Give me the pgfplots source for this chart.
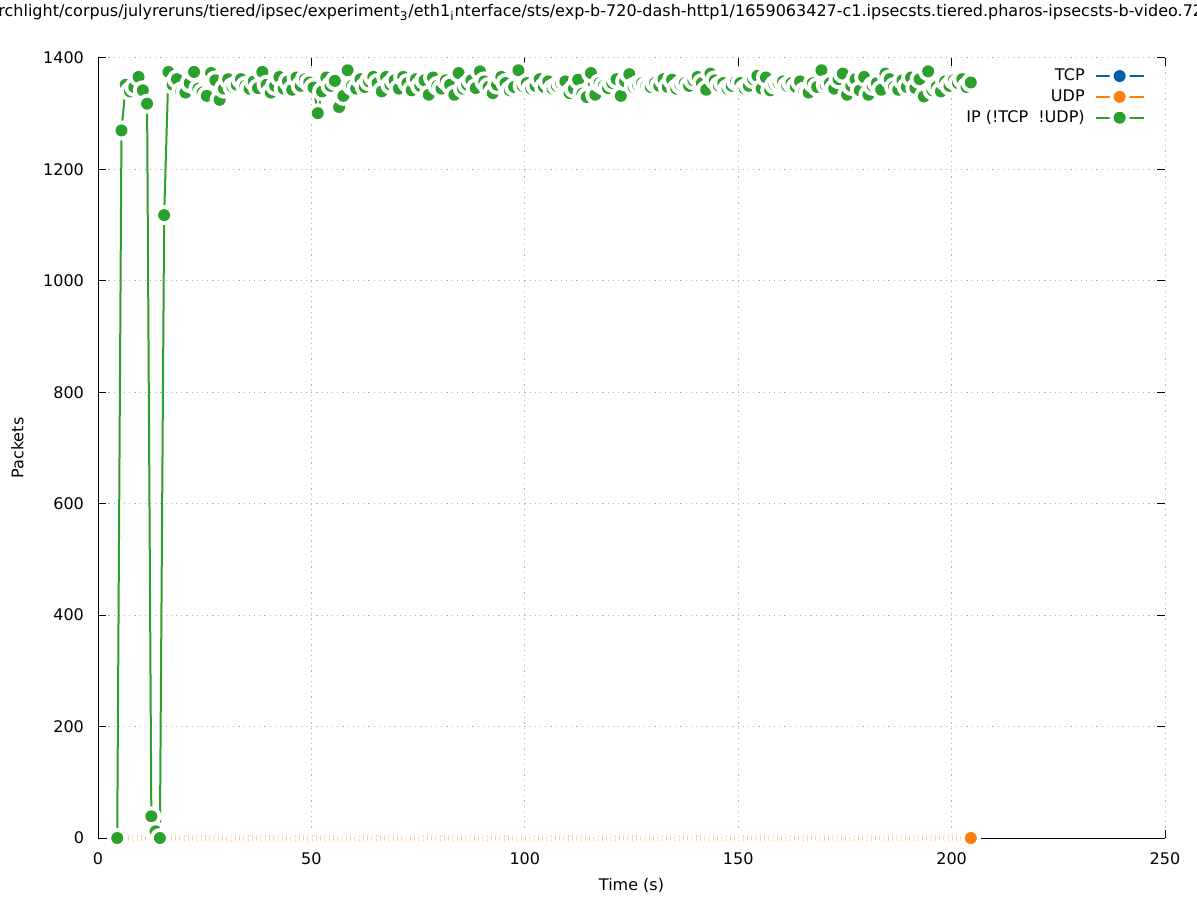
\documentclass[border=0pt]{standalone}
\usepackage{fontspec}
\setmainfont{DejaVu Sans}
\usepackage{pgfplots}
\pgfplotsset{compat=1.18}
\definecolor{tcpblue}{HTML}{0060AD}
\definecolor{udporange}{HTML}{FF7F0E}
\definecolor{ipgreen}{HTML}{2CA02C}
\pgfdeclareplotmark{gp}{%
  \begin{pgfscope}\pgfsetfillcolor{white}%
  \pgfpathcircle{\pgfpointorigin}{5pt}\pgfusepathqfill\end{pgfscope}%
  \pgfpathcircle{\pgfpointorigin}{3pt}\pgfusepathqfill}
\begin{document}
\begin{tikzpicture}
\useasboundingbox (0pt,0pt) rectangle (598.5pt,450pt);
\begin{scope}
\clip (0pt,0pt) rectangle (598.5pt,450pt);
\node[anchor=base west, inner sep=0pt, font=\fontsize{8}{9.6}\selectfont] at (-1pt,441.5pt)
 {rchlight/corpus/julyreruns/tiered/ipsec/experiment\textsubscript{3}/eth1\textsubscript{i}nterface/sts/exp-b-720-dash-http1/1659063427-c1.ipsecsts.tiered.pharos-ipsecsts-b-video.720p};
\end{scope}
\begin{axis}[
  at={(49pt,31pt)}, anchor=south west, scale only axis,
  width=533.5pt, height=390pt,
  xmin=0, xmax=250, ymin=0, ymax=1400,
  xtick={0,50,...,250}, ytick={0,200,...,1400},
  tick align=inside, major tick length=4pt, minor tick num=0,
  axis line style={draw=none},
  tick style={black, line width=0.5pt},
  grid=major,
  major grid style={color=black!30, line width=0.5pt, dash pattern=on 0.6pt off 2pt},
  clip=false,
  ticklabel style={font=\fontsize{8}{9.6}\selectfont},
  xticklabel style={yshift=-4pt},
  yticklabel style={xshift=-3.5pt},
  /pgf/number format/assume math mode=true,
  scaled ticks=false, /pgf/number format/1000 sep={},
  xlabel={Time (s)}, ylabel={Packets},
  label style={font=\fontsize{8}{9.6}\selectfont},
  xlabel style={at={(axis description cs:0.5,-0.0615)}, anchor=center},
  ylabel style={at={(axis description cs:-0.0756,0.5)}, anchor=center},
  legend plot pos=right, legend cell align=right,
  legend style={draw=none, fill=none, at={(rel axis cs:0.9813,0.992)}, anchor=north east,
    font=\fontsize{8}{9.6}\selectfont, row sep=-1pt, column sep=3pt, inner sep=0pt},
  legend image code/.code={\draw[mark repeat=2, mark phase=2, #1] plot coordinates {(0pt,0pt) (12pt,0pt) (24pt,0pt)};},
]
\addlegendimage{color=tcpblue, line width=1pt, mark=gp}
\addlegendentry{TCP}
\addplot[color=udporange, line width=1pt, mark=gp] coordinates {
(4.5,0) (5.5,0) (6.5,0) (7.5,0) (8.5,0) (9.5,0) (10.5,0) (11.5,0) (12.5,0) (13.5,0)
(14.5,0) (15.5,0) (16.5,0) (17.5,0) (18.5,0) (19.5,0) (20.5,0) (21.5,0) (22.5,0) (23.5,0)
(24.5,0) (25.5,0) (26.5,0) (27.5,0) (28.5,0) (29.5,0) (30.5,0) (31.5,0) (32.5,0) (33.5,0)
(34.5,0) (35.5,0) (36.5,0) (37.5,0) (38.5,0) (39.5,0) (40.5,0) (41.5,0) (42.5,0) (43.5,0)
(44.5,0) (45.5,0) (46.5,0) (47.5,0) (48.5,0) (49.5,0) (50.5,0) (51.5,0) (52.5,0) (53.5,0)
(54.5,0) (55.5,0) (56.5,0) (57.5,0) (58.5,0) (59.5,0) (60.5,0) (61.5,0) (62.5,0) (63.5,0)
(64.5,0) (65.5,0) (66.5,0) (67.5,0) (68.5,0) (69.5,0) (70.5,0) (71.5,0) (72.5,0) (73.5,0)
(74.5,0) (75.5,0) (76.5,0) (77.5,0) (78.5,0) (79.5,0) (80.5,0) (81.5,0) (82.5,0) (83.5,0)
(84.5,0) (85.5,0) (86.5,0) (87.5,0) (88.5,0) (89.5,0) (90.5,0) (91.5,0) (92.5,0) (93.5,0)
(94.5,0) (95.5,0) (96.5,0) (97.5,0) (98.5,0) (99.5,0) (100.5,0) (101.5,0) (102.5,0) (103.5,0)
(104.5,0) (105.5,0) (106.5,0) (107.5,0) (108.5,0) (109.5,0) (110.5,0) (111.5,0) (112.5,0) (113.5,0)
(114.5,0) (115.5,0) (116.5,0) (117.5,0) (118.5,0) (119.5,0) (120.5,0) (121.5,0) (122.5,0) (123.5,0)
(124.5,0) (125.5,0) (126.5,0) (127.5,0) (128.5,0) (129.5,0) (130.5,0) (131.5,0) (132.5,0) (133.5,0)
(134.5,0) (135.5,0) (136.5,0) (137.5,0) (138.5,0) (139.5,0) (140.5,0) (141.5,0) (142.5,0) (143.5,0)
(144.5,0) (145.5,0) (146.5,0) (147.5,0) (148.5,0) (149.5,0) (150.5,0) (151.5,0) (152.5,0) (153.5,0)
(154.5,0) (155.5,0) (156.5,0) (157.5,0) (158.5,0) (159.5,0) (160.5,0) (161.5,0) (162.5,0) (163.5,0)
(164.5,0) (165.5,0) (166.5,0) (167.5,0) (168.5,0) (169.5,0) (170.5,0) (171.5,0) (172.5,0) (173.5,0)
(174.5,0) (175.5,0) (176.5,0) (177.5,0) (178.5,0) (179.5,0) (180.5,0) (181.5,0) (182.5,0) (183.5,0)
(184.5,0) (185.5,0) (186.5,0) (187.5,0) (188.5,0) (189.5,0) (190.5,0) (191.5,0) (192.5,0) (193.5,0)
(194.5,0) (195.5,0) (196.5,0) (197.5,0) (198.5,0) (199.5,0) (200.5,0) (201.5,0) (202.5,0) (203.5,0)
(204.5,0)
};
\addlegendentry{UDP}
\draw[black, line width=0.5pt] (rel axis cs:0,1) -- (rel axis cs:0,0) -- (rel axis cs:1,0);
\addplot[color=ipgreen, line width=1pt, mark=gp] coordinates {
(4.5,0) (5.5,1270) (6.5,1352) (7.5,1340) (8.5,1348) (9.5,1366) (10.5,1342) (11.5,1318) (12.5,39) (13.5,12)
(14.5,0) (15.5,1118) (16.5,1375) (17.5,1352) (18.5,1362) (19.5,1340) (20.5,1338) (21.5,1355) (22.5,1375) (23.5,1345)
(24.5,1338) (25.5,1332) (26.5,1373) (27.5,1360) (28.5,1325) (29.5,1345) (30.5,1362) (31.5,1348) (32.5,1352) (33.5,1362)
(34.5,1350) (35.5,1345) (36.5,1358) (37.5,1346) (38.5,1375) (39.5,1352) (40.5,1338) (41.5,1350) (42.5,1366) (43.5,1345)
(44.5,1358) (45.5,1343) (46.5,1365) (47.5,1350) (48.5,1362) (49.5,1356) (50.5,1347) (51.5,1301) (52.5,1340) (53.5,1365)
(54.5,1350) (55.5,1359) (56.5,1312) (57.5,1332) (58.5,1378) (59.5,1350) (60.5,1345) (61.5,1362) (62.5,1348) (63.5,1358)
(64.5,1366) (65.5,1355) (66.5,1340) (67.5,1366) (68.5,1352) (69.5,1360) (70.5,1345) (71.5,1366) (72.5,1355) (73.5,1342)
(74.5,1362) (75.5,1350) (76.5,1360) (77.5,1334) (78.5,1365) (79.5,1350) (80.5,1345) (81.5,1360) (82.5,1352) (83.5,1334)
(84.5,1373) (85.5,1345) (86.5,1352) (87.5,1360) (88.5,1346) (89.5,1376) (90.5,1358) (91.5,1348) (92.5,1337) (93.5,1352)
(94.5,1366) (95.5,1355) (96.5,1342) (97.5,1348) (98.5,1378) (99.5,1350) (100.5,1355) (101.5,1345) (102.5,1350) (103.5,1362)
(104.5,1348) (105.5,1358) (106.5,1345) (107.5,1350) (108.5,1355) (109.5,1358) (110.5,1337) (111.5,1345) (112.5,1361) (113.5,1336)
(114.5,1330) (115.5,1373) (116.5,1334) (117.5,1355) (118.5,1350) (119.5,1346) (120.5,1355) (121.5,1362) (122.5,1332) (123.5,1358)
(124.5,1371) (125.5,1348) (126.5,1352) (127.5,1355) (128.5,1350) (129.5,1348) (130.5,1355) (131.5,1350) (132.5,1362) (133.5,1348)
(134.5,1361) (135.5,1345) (136.5,1352) (137.5,1355) (138.5,1350) (139.5,1360) (140.5,1366) (141.5,1355) (142.5,1343) (143.5,1372)
(144.5,1360) (145.5,1350) (146.5,1355) (147.5,1345) (148.5,1350) (149.5,1358) (150.5,1355) (151.5,1345) (152.5,1350) (153.5,1362)
(154.5,1368) (155.5,1345) (156.5,1365) (157.5,1342) (158.5,1352) (159.5,1355) (160.5,1358) (161.5,1350) (162.5,1355) (163.5,1348)
(164.5,1358) (165.5,1340) (166.5,1338) (167.5,1355) (168.5,1348) (169.5,1378) (170.5,1352) (171.5,1355) (172.5,1345) (173.5,1362)
(174.5,1372) (175.5,1334) (176.5,1350) (177.5,1362) (178.5,1342) (179.5,1366) (180.5,1334) (181.5,1350) (182.5,1355) (183.5,1343)
(184.5,1372) (185.5,1362) (186.5,1348) (187.5,1343) (188.5,1360) (189.5,1348) (190.5,1365) (191.5,1346) (192.5,1362) (193.5,1331)
(194.5,1376) (195.5,1342) (196.5,1348) (197.5,1340) (198.5,1358) (199.5,1350) (200.5,1360) (201.5,1355) (202.5,1362) (203.5,1348)
(204.5,1356)
};
\addlegendentry{IP (!TCP\ \ !UDP)}
\addplot[forget plot, color=udporange, line width=1pt, mark=gp] coordinates {(204.5,0)};
\end{axis}
\end{tikzpicture}
\end{document}
